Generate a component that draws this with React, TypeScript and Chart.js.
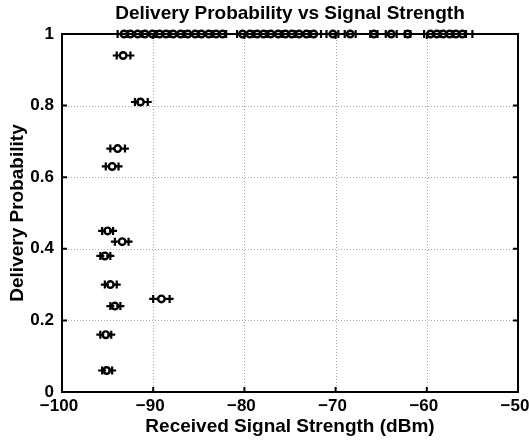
import React, { useEffect, useRef } from "react";
import { Chart, registerables } from "chart.js";
Chart.register(...registerables);

// partial-delivery links: probability, mean RSS, min/max RSS samples
const probs = [0.94, 0.81, 0.68, 0.63, 0.45, 0.42, 0.38, 0.3, 0.26, 0.24, 0.16, 0.06];
const meanRss = [-93.3, -91.4, -93.9, -94.5, -95.0, -93.4, -95.3, -94.7, -89.1, -94.2, -95.2, -95.1];
const minRss = [-94.0, -92.0, -94.7, -95.2, -95.6, -94.2, -95.8, -95.3, -90.0, -94.7, -95.8, -95.6];
const maxRss = [-92.5, -90.6, -93.1, -93.8, -94.4, -92.7, -94.7, -94.0, -88.2, -93.6, -94.6, -94.5];

// links with full delivery (probability 1)
const fullMean = [
  -93.2, -92.5, -91.7, -90.9, -90.1, -89.3, -88.6, -87.8, -87.0, -86.2, -85.4, -84.7, -83.9, -83.1, -82.4,
  -80.2, -79.4, -78.6, -77.9, -77.1, -76.3, -75.5, -74.8, -74.0, -73.2, -72.4, -70.3, -68.4, -65.8, -63.9,
  -62.1, -59.6, -58.9, -58.2, -57.5, -56.8, -56.1,
];
const fullPlus = [
  -93.9, -92.8, -91.2, -89.7, -88.2, -86.6, -85.0, -83.5, -82.0, -80.8, -79.0, -77.5, -75.9, -74.4, -72.8,
  -71.6, -71.0, -69.7, -69.0, -67.8, -66.2, -65.4, -64.5, -63.3, -62.4, -61.8, -60.3, -58.5, -57.1, -55.7, -55.0,
];

const xTicks = [-100, -90, -80, -70, -60, -50];
const xTickLabels = ["\u2212100", "\u221290", "\u221280", "\u221270", "\u221260", "\u221250"];
const yTicks = [0, 0.2, 0.4, 0.6, 0.8, 1];
const yTickLabels = ["0", "0.2", "0.4", "0.6", "0.8", "1"];

const FONT = "'Liberation Sans', Arial, Helvetica, sans-serif";

const matlabAxes = {
  id: "matlabAxes",
  beforeDatasetsDraw(chart: any) {
    const { ctx, chartArea: a, scales } = chart;
    ctx.save();
    ctx.strokeStyle = "#a8a8a8";
    ctx.lineWidth = 1;
    ctx.setLineDash([1, 2]);
    xTicks.slice(1, -1).forEach((v) => {
      const px = Math.round(scales.x.getPixelForValue(v)) + 0.5;
      ctx.beginPath();
      ctx.moveTo(px, a.top);
      ctx.lineTo(px, a.bottom);
      ctx.stroke();
    });
    yTicks.slice(1, -1).forEach((v) => {
      const py = Math.round(scales.y.getPixelForValue(v)) + 0.5;
      ctx.beginPath();
      ctx.moveTo(a.left, py);
      ctx.lineTo(a.right, py);
      ctx.stroke();
    });
    ctx.restore();
  },
  afterDatasetsDraw(chart: any) {
    const { ctx, chartArea: a, scales } = chart;
    ctx.save();
    ctx.strokeStyle = "#000";
    ctx.lineWidth = 2;
    ctx.setLineDash([]);
    ctx.strokeRect(a.left, a.top, a.right - a.left, a.bottom - a.top);
    const tl = 5;
    xTicks.forEach((v) => {
      const px = scales.x.getPixelForValue(v);
      ctx.beginPath();
      ctx.moveTo(px, a.bottom);
      ctx.lineTo(px, a.bottom - tl);
      ctx.moveTo(px, a.top);
      ctx.lineTo(px, a.top + tl);
      ctx.stroke();
    });
    yTicks.forEach((v) => {
      const py = scales.y.getPixelForValue(v);
      ctx.beginPath();
      ctx.moveTo(a.left, py);
      ctx.lineTo(a.left + tl, py);
      ctx.moveTo(a.right, py);
      ctx.lineTo(a.right - tl, py);
      ctx.stroke();
    });
    ctx.restore();
  },
};

export default function App() {
  const ref = useRef<HTMLCanvasElement>(null);
  useEffect(() => {
    const circles = probs
      .map((p, i) => ({ x: meanRss[i], y: p }))
      .concat(fullMean.map((x) => ({ x, y: 1 })));
    const pluses = probs
      .map((p, i) => ({ x: minRss[i], y: p }))
      .concat(probs.map((p, i) => ({ x: maxRss[i], y: p })))
      .concat(fullPlus.map((x) => ({ x, y: 1 })));
    const chart = new Chart(ref.current!, {
      type: "scatter",
      data: {
        datasets: [
          {
            label: "mean",
            data: circles,
            pointStyle: "circle",
            pointRadius: 3.3,
            borderColor: "#000",
            backgroundColor: "rgba(0,0,0,0)",
            pointBorderWidth: 2.4,
            clip: false as any,
          },
          {
            label: "samples",
            data: pluses,
            pointStyle: "cross",
            pointRadius: 4,
            borderColor: "#000",
            backgroundColor: "#000",
            pointBorderWidth: 2.2,
            clip: false as any,
          },
        ],
      },
      options: {
        animation: false,
        responsive: false,
        layout: { padding: { left: 0, top: 0, right: 11, bottom: 0 } },
        plugins: {
          legend: { display: false },
          tooltip: { enabled: false },
          title: {
            display: true,
            text: "Delivery Probability vs Signal Strength",
            fullSize: false,
            color: "#000",
            font: { family: FONT, size: 19, weight: "bold" },
            padding: { top: 2, bottom: 9.2 },
          },
        },
        scales: {
          x: {
            type: "linear",
            min: -100,
            max: -50,
            afterBuildTicks: (s: any) => {
              s.ticks = xTicks.map((v) => ({ value: v }));
            },
            afterFit: (s: any) => {
              s.height = 49;
              s.paddingLeft = 0;
              s.paddingRight = 0;
            },
            grid: { display: false, drawTicks: false },
            border: { display: false },
            ticks: {
              color: "#000",
              font: { family: FONT, size: 17, weight: "bold" },
              padding: 4,
              maxRotation: 0,
              labelOffset: -3,
              callback: (v: any) => xTickLabels[xTicks.indexOf(Number(v))] ?? String(v),
            },
            title: {
              display: true,
              text: "Received Signal Strength (dBm)",
              color: "#000",
              font: { family: FONT, size: 19, weight: "bold" },
              padding: { top: 0, bottom: 2.6 },
            },
          },
          y: {
            type: "linear",
            min: 0,
            max: 1,
            afterBuildTicks: (s: any) => {
              s.ticks = yTicks.map((v) => ({ value: v }));
            },
            afterFit: (s: any) => {
              s.width = 62;
              s.paddingTop = 0;
              s.paddingBottom = 0;
            },
            grid: { display: false, drawTicks: false },
            border: { display: false },
            ticks: {
              color: "#000",
              font: { family: FONT, size: 17, weight: "bold" },
              padding: 8,
              callback: (v: any) => yTickLabels[yTicks.indexOf(Number(v))] ?? String(v),
            },
            title: {
              display: true,
              text: "Delivery Probability",
              color: "#000",
              font: { family: FONT, size: 19, weight: "bold" },
              padding: { top: 6, bottom: 0 },
            },
          },
        },
      },
      plugins: [matlabAxes],
    });
    return () => chart.destroy();
  }, []);
  return (
    <div style={{ position: "absolute", left: 0, top: 0, width: 529, height: 441, background: "#fff" }}>
      <canvas ref={ref} width={529} height={441} style={{ display: "block" }} />
    </div>
  );
}
